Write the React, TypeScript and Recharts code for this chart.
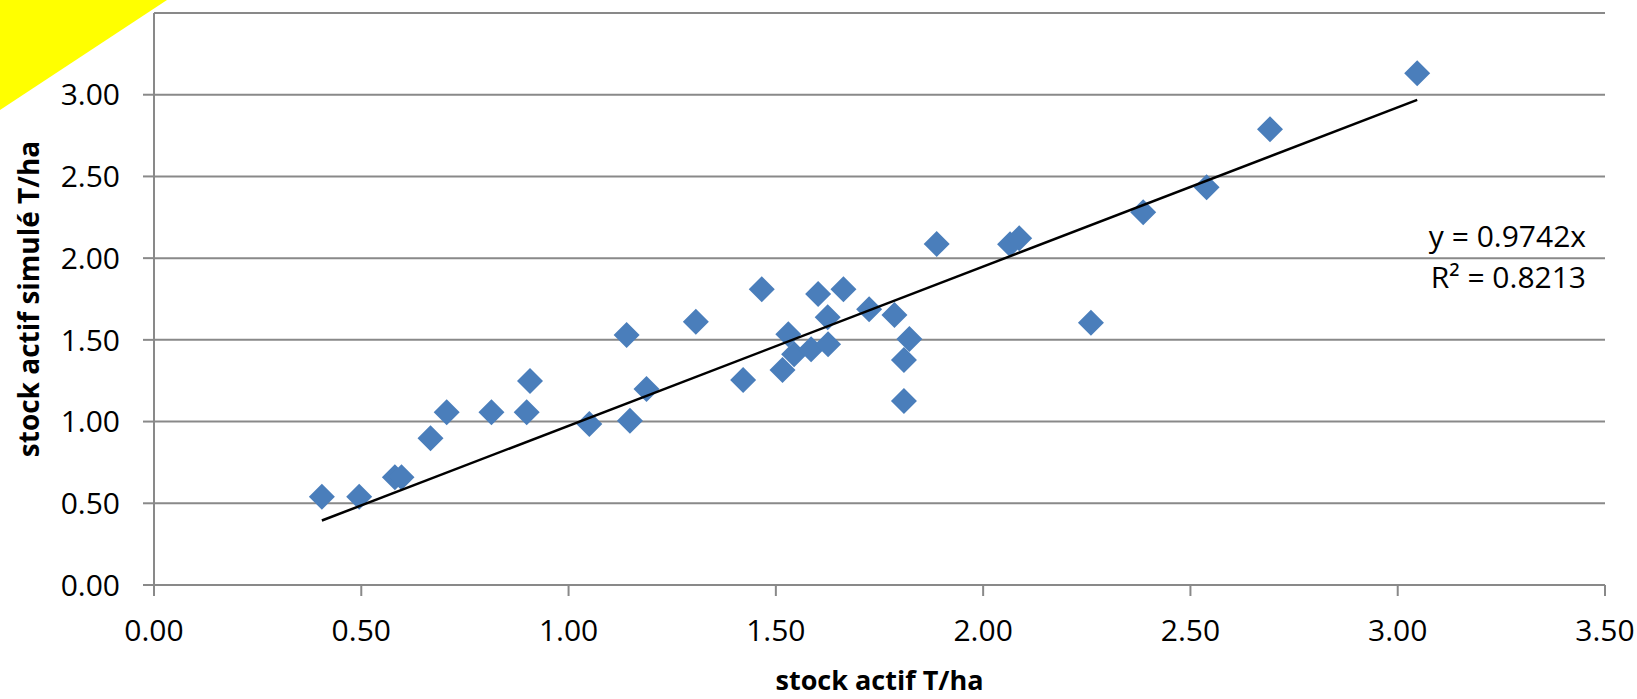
import { CartesianGrid, ReferenceLine, Scatter, ScatterChart, XAxis, YAxis } from 'recharts';

// stock actif mesuré (T/ha)
const measured = [
  0.405, 0.495, 0.581, 0.597, 0.667, 0.706, 0.814, 0.899, 0.907, 1.05, 1.14, 1.148, 1.188,
  1.307, 1.421, 1.466, 1.516, 1.53, 1.544, 1.585, 1.602, 1.625, 1.626, 1.663, 1.725, 1.786,
  1.809, 1.822, 1.809, 1.888, 2.065, 2.087, 2.26, 2.386, 2.539, 2.692, 3.047,
];
// stock actif simulé (T/ha)
const simulated = [
  0.54, 0.54, 0.659, 0.659, 0.898, 1.057, 1.057, 1.057, 1.248, 0.985, 1.53, 1.005, 1.2,
  1.611, 1.255, 1.81, 1.316, 1.534, 1.412, 1.442, 1.781, 1.638, 1.473, 1.81, 1.687, 1.652,
  1.377, 1.505, 1.126, 2.087, 2.085, 2.122, 1.605, 2.281, 2.434, 2.789, 3.131,
];
const xTicks = [0, 0.5, 1, 1.5, 2, 2.5, 3, 3.5];
const yTicks = [0, 0.5, 1, 1.5, 2, 2.5, 3];
const slope = 0.9742;
const rSquared = '0.8213';

const points = measured.map((x, i) => ({ x, y: simulated[i] }));
const trend = [Math.min(...measured), Math.max(...measured)].map((x) => ({ x, y: slope * x }));

const FONT = '"Open Sans", sans-serif';
const GRID = '#898989';
const BLUE = '#4A7EBB';

function Diamond(props: any) {
  const { cx, cy } = props;
  const r = 13;
  return (
    <polygon
      points={`${cx},${cy - r} ${cx + r},${cy} ${cx},${cy + r} ${cx - r},${cy}`}
      fill={BLUE}
    />
  );
}

export default function App() {
  return (
    <div
      style={{
        position: 'absolute',
        left: 0,
        top: 0,
        width: 1637,
        height: 699,
        background: '#fff',
        fontFamily: FONT,
      }}
    >
      <ScatterChart width={1637} height={699} margin={{ top: 13, right: 32, left: 0, bottom: 0 }}>
        <CartesianGrid vertical={false} stroke={GRID} strokeWidth={2} />
        <XAxis
          type="number"
          dataKey="x"
          domain={[0, 3.5]}
          ticks={xTicks}
          height={114}
          tickSize={11}
          tickMargin={24}
          stroke={GRID}
          strokeWidth={2}
          tick={{ fill: '#000', fontSize: 30, fontFamily: FONT }}
          tickFormatter={(v) => Number(v).toFixed(2)}
          label={({ viewBox }: any) => (
            <text
              x={viewBox.x + viewBox.width / 2}
              y={690}
              textAnchor="middle"
              fontFamily={FONT}
              fontWeight="bold"
              fontSize={27}
              fill="#000"
            >
              stock actif T/ha
            </text>
          )}
        />
        <YAxis
          type="number"
          dataKey="y"
          domain={[0, 3.5]}
          ticks={yTicks}
          width={154}
          tickSize={11}
          tickMargin={23}
          stroke={GRID}
          strokeWidth={2}
          tick={{ fill: '#000', fontSize: 30, fontFamily: FONT }}
          tickFormatter={(v) => Number(v).toFixed(2)}
          label={({ viewBox }: any) => {
            const cy = viewBox.y + viewBox.height / 2;
            return (
              <text
                x={39}
                y={cy}
                transform={`rotate(-90, 39, ${cy})`}
                textAnchor="middle"
                fontFamily={FONT}
                fontWeight="bold"
                fontSize={28}
                fill="#000"
              >
                stock actif simulé T/ha
              </text>
            );
          }}
        />
        <ReferenceLine y={3.5} stroke={GRID} strokeWidth={2} />
        <Scatter data={points} shape={<Diamond />} isAnimationActive={false} />
        <Scatter
          data={trend}
          line={{ stroke: '#000', strokeWidth: 2.5 }}
          shape={() => <g />}
          isAnimationActive={false}
        />
      </ScatterChart>
      <svg
        width={1637}
        height={699}
        style={{ position: 'absolute', left: 0, top: 0, pointerEvents: 'none' }}
      >
        <polygon points="0,0 167,0 0,110" fill="#FFFF00" />
        <text x={1586} y={247} textAnchor="end" fontFamily={FONT} fontSize={30} fill="#000">
          y = {slope}x
        </text>
        <text x={1586} y={288} textAnchor="end" fontFamily={FONT} fontSize={30} fill="#000">
          R² = {rSquared}
        </text>
      </svg>
    </div>
  );
}
